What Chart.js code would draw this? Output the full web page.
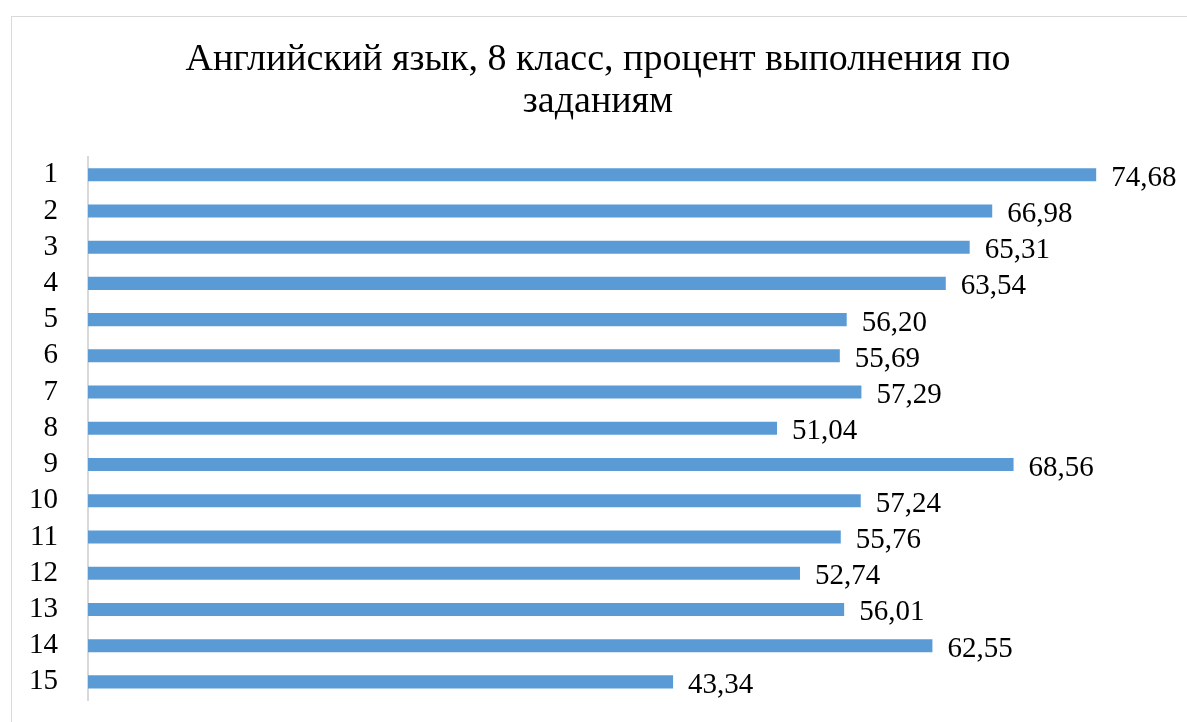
<!DOCTYPE html>
<html>
<head>
<meta charset="utf-8">
<script src="https://cdn.jsdelivr.net/npm/chart.js@4"></script>
<style>
    html, body { margin: 0; padding: 0; background: #fff; }
    canvas { display: block; }
</style>
</head>
<body>
<canvas id="taskChart" width="1187" height="722"></canvas>
<script>
(function() {
    "use strict";

    var taskLabels = ["1", "2", "3", "4", "5", "6", "7", "8", "9", "10", "11", "12", "13", "14", "15"];
    var taskPercents = [74.68, 66.98, 65.31, 63.54, 56.20, 55.69, 57.29, 51.04, 68.56, 57.24, 55.76, 52.74, 56.01, 62.55, 43.34];
    var titleLines = ["Английский язык, 8 класс, процент выполнения по", "заданиям"];

    var serif = "'Liberation Serif', 'Times New Roman', serif";

    function formatValue(v) {
        return v.toFixed(2).replace(".", ",");
    }

    // thin grey frame around the chart, like the office chart border
    var framePlugin = {
        id: "frame",
        beforeDraw: function(chart) {
            var ctx = chart.ctx;
            ctx.save();
            ctx.strokeStyle = "#d9d9d9";
            ctx.lineWidth = 1;
            ctx.strokeRect(11.5, 16.5, chart.width + 20, chart.height + 20);
            ctx.restore();
        }
    };

    var valueLabelPlugin = {
        id: "valueLabels",
        afterDatasetsDraw: function(chart) {
            var ctx = chart.ctx;
            var meta = chart.getDatasetMeta(0);
            ctx.save();
            ctx.font = "29px " + serif;
            ctx.fillStyle = "#000";
            ctx.textAlign = "left";
            ctx.textBaseline = "alphabetic";
            meta.data.forEach(function(bar, i) {
                ctx.fillText(formatValue(taskPercents[i]), bar.x + 15, bar.y + 11);
            });
            ctx.restore();
        }
    };

    new Chart(document.getElementById("taskChart").getContext("2d"), {
        type: "bar",
        data: {
            labels: taskLabels,
            datasets: [{
                data: taskPercents,
                backgroundColor: "#5b9bd5",
                borderWidth: 0,
                categoryPercentage: 1,
                barPercentage: 0.36
            }]
        },
        plugins: [framePlugin, valueLabelPlugin],
        options: {
            indexAxis: "y",
            responsive: false,
            animation: false,
            layout: {
                padding: { left: 28, right: 19, top: 0, bottom: 22 }
            },
            plugins: {
                legend: { display: false },
                tooltip: { enabled: false },
                title: {
                    display: true,
                    text: titleLines,
                    color: "#000",
                    font: { family: serif, size: 38, weight: "normal", lineHeight: 1.1 },
                    padding: { top: 39, bottom: 34 }
                }
            },
            scales: {
                x: {
                    display: false,
                    min: 0,
                    max: 80
                },
                y: {
                    grid: { display: false, drawTicks: false },
                    border: { display: true, color: "#d9d9d9", width: 2 },
                    ticks: {
                        color: "#000",
                        padding: 30,
                        autoSkip: false,
                        font: { family: serif, size: 29 }
                    },
                    afterFit: function(scale) {
                        scale.width = 60;
                        scale.paddingTop = 0;
                        scale.paddingBottom = 0;
                    }
                }
            }
        }
    });
})();
</script>
</body>
</html>
